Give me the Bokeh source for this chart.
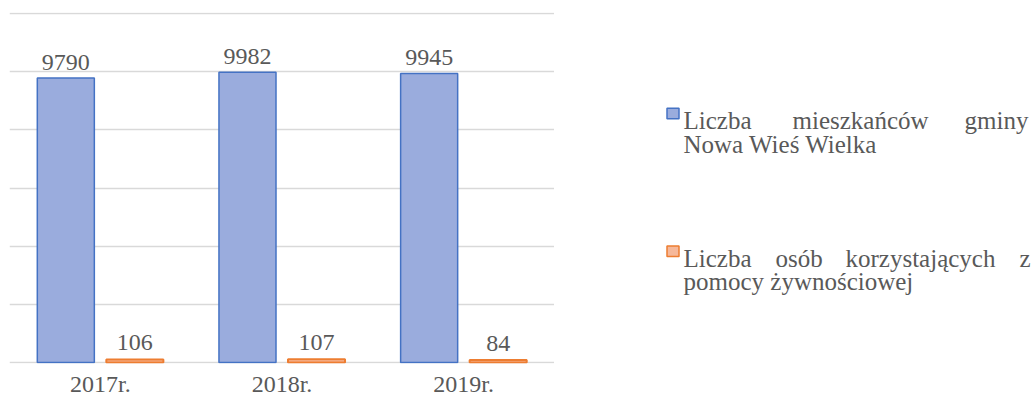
from bokeh.plotting import figure
from bokeh.models import ColumnDataSource, FactorRange, Range1d, FixedTicker
from bokeh.layouts import row
from bokeh.transform import dodge
from bokeh.core.properties import value
from bokeh.embed import file_html
from bokeh.resources import INLINE

# ---- data ----
categories = ["2017r.", "2018r.", "2019r."]
mieszkancy = [9790, 9982, 9945]
pomoc = [106, 107, 84]
series_names = ["Liczba mieszkańców gminy Nowa Wieś Wielka",
                "Liczba osób korzystających z pomocy żywnościowej"]
grid_ticks = [0, 2000, 4000, 6000, 8000, 10000, 12000]

FONT = "Liberation Serif"
TXT = "#595959"
BLUE_FILL, BLUE_LINE = "#9aacdd", "#4472c4"
ORANGE_FILL, ORANGE_LINE = "#f6b89a", "#ed7d31"

src = ColumnDataSource(dict(cat=categories, a=mieszkancy, b=pomoc,
                            la=[str(v) for v in mieszkancy],
                            lb=[str(v) for v in pomoc]))

H = 400
p = figure(width=554, height=H, x_range=FactorRange(*categories, range_padding=0),
           y_range=Range1d(-35, 12040), output_backend="svg", toolbar_location=None,
           x_axis_location="below", y_axis_location=None,
           min_border_left=9, min_border_right=0, min_border_top=12, min_border_bottom=37)
p.outline_line_color = None
p.xgrid.visible = False
p.ygrid.ticker = FixedTicker(ticks=grid_ticks)
p.ygrid.grid_line_color = "#d9d9d9"
p.ygrid.grid_line_width = 1.3

ax = p.xaxis[0]
ax.axis_line_color = None
ax.major_tick_line_color = None
ax.major_tick_in = 0
ax.major_tick_out = 0
ax.major_label_standoff = 7
ax.major_label_text_font = FONT
ax.major_label_text_font_size = "24px"
ax.major_label_text_color = TXT

off = 0.19
bw = 0.314
p.vbar(x=dodge("cat", -off, range=p.x_range), top="a", bottom=0, width=bw, source=src,
       fill_color=BLUE_FILL, line_color=BLUE_LINE, line_width=1.5)
p.vbar(x=dodge("cat", off, range=p.x_range), top="b", bottom=0, width=bw, source=src,
       fill_color=ORANGE_FILL, line_color=ORANGE_LINE, line_width=2)

p.text(x=dodge("cat", -off, range=p.x_range), y="a", text="la", source=src,
       text_align="center", text_baseline="alphabetic", y_offset=-15.5,
       text_font=value(FONT), text_font_size="24px", text_color=TXT)
p.text(x=dodge("cat", off, range=p.x_range), y="b", text="lb", source=src,
       text_align="center", text_baseline="alphabetic", y_offset=-16.5,
       text_font=value(FONT), text_font_size="24px", text_color=TXT)

# ---- legend panel ----
LW = 477
leg = figure(width=LW, height=H, x_range=Range1d(0, LW), y_range=Range1d(H, 0),
             output_backend="svg", toolbar_location=None,
             x_axis_location=None, y_axis_location=None,
             min_border_left=0, min_border_right=0, min_border_top=0, min_border_bottom=0)
leg.outline_line_color = None
leg.xgrid.visible = False
leg.ygrid.visible = False

leg.rect(x=[118.5], y=[115], width=12, height=12, fill_color=BLUE_FILL,
         line_color=BLUE_LINE, line_width=1.5)
leg.rect(x=[118.5], y=[272], width=12, height=12, fill_color=ORANGE_FILL,
         line_color=ORANGE_LINE, line_width=1.5)

w1 = series_names[0].split(" ")
w2 = series_names[1].split(" ")
words = [w1[0], w1[1], w1[2], " ".join(w1[3:]),
         w2[0], w2[1], w2[2], w2[3], " ".join(w2[4:])]
wx = [129, 238, 474, 129, 129, 221, 291, 476, 129]
wy = [123, 123, 123, 150, 280, 280, 280, 280, 307]
wa = ["left", "left", "right", "left", "left", "left", "left", "right", "left"]
leg.text(x=wx, y=wy, text=words, text_align=wa, text_baseline="alphabetic",
         text_font=value(FONT), text_font_size="25px", text_color=TXT)

layout = row(p, leg, spacing=0)
open("out.html", "w").write(file_html(layout, INLINE))
